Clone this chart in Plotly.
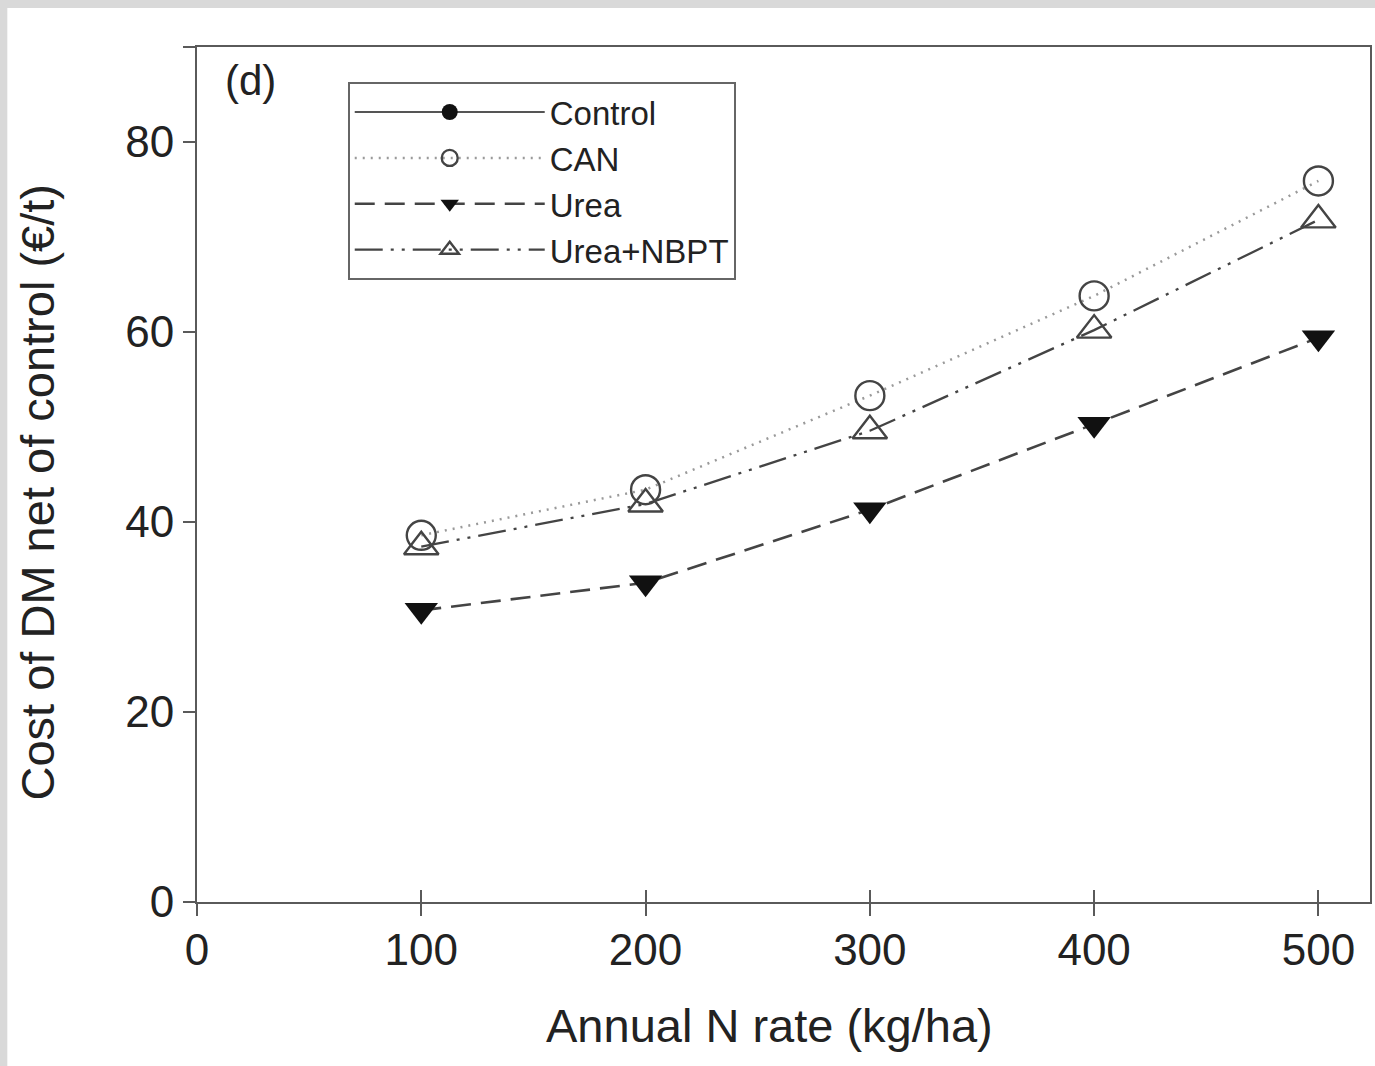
import plotly.graph_objects as go

n_rate = [100, 200, 300, 400, 500]
control = [None]
can = [38.6, 43.4, 53.3, 63.8, 75.9]
urea = [30.7, 33.6, 41.3, 50.3, 59.4]
urea_nbpt = [37.4, 41.9, 49.6, 60.2, 71.8]

x_ticks = [0, 100, 200, 300, 400, 500]
y_ticks = [0, 20, 40, 60, 80, 90]
y_tick_text = ["0", "20", "40", "60", "80", ""]

FONT = "Liberation Sans, Arial, sans-serif"
TXT = "#222222"
AX = "#5a5a5a"

fig = go.Figure()
fig.add_trace(go.Scatter(x=control, y=control, name="Control", mode="lines+markers",
                         line=dict(color="#555555", width=2),
                         marker=dict(symbol="circle", size=24, color="#111111")))
fig.add_trace(go.Scatter(x=n_rate, y=can, name="CAN", mode="lines+markers",
                         line=dict(color="#9a9a9a", width=2.5, dash="2px,6px"),
                         marker=dict(symbol="circle-open", size=29, color="#444444", line=dict(width=2.4))))
fig.add_trace(go.Scatter(x=n_rate, y=urea, name="Urea", mode="lines+markers",
                         line=dict(color="#444444", width=2.6, dash="20px,10px"),
                         marker=dict(symbol="triangle-down", size=29, color="#111111")))
fig.add_trace(go.Scatter(x=n_rate, y=urea_nbpt, name="Urea+NBPT", mode="lines+markers",
                         line=dict(color="#444444", width=2.3, dash="28px,8px,3px,8px,3px,8px"),
                         marker=dict(symbol="triangle-up-open", size=30, color="#444444", line=dict(width=2.4))))

# overlay axis for inward half of crossing x ticks
fig.add_trace(go.Scatter(x=[None], y=[None], xaxis="x2", showlegend=False, hoverinfo="skip"))

fig.update_layout(
    width=1375, height=1066,
    margin=dict(l=197, r=3, t=47, b=164),
    paper_bgcolor="white", plot_bgcolor="white",
    font=dict(family=FONT, color=TXT, size=44),
    showlegend=True,
    legend=dict(x=0.1285, y=0.959, xanchor="left", yanchor="top",
                bordercolor="#666666", borderwidth=2, bgcolor="white",
                font=dict(size=33, family=FONT, color=TXT),
                itemwidth=190, tracegroupgap=0),
    xaxis=dict(range=[0, 523], tickvals=x_ticks, ticks="outside", ticklen=12, tickwidth=2,
               tickcolor=AX, showline=True, linecolor=AX, linewidth=2, mirror=True,
               showgrid=False, zeroline=False, tickfont=dict(size=44), ticklabelstandoff=-4),
    xaxis2=dict(overlaying="x", matches="x", range=[0, 523], tickvals=x_ticks[1:], ticks="inside",
                ticklen=12, tickwidth=2, tickcolor=AX, showticklabels=False, showline=False,
                showgrid=False, zeroline=False, side="bottom"),
    yaxis=dict(range=[0, 90], tickvals=y_ticks, ticktext=y_tick_text, ticks="outside", ticklen=12,
               tickwidth=2, tickcolor=AX, showline=True, linecolor=AX, linewidth=2, mirror=True,
               showgrid=False, zeroline=False, tickfont=dict(size=44)),
    shapes=[
        dict(type="rect", xref="paper", yref="paper", x0=-0.2, x1=1.01, y0=1.0456, y1=1.06,
             fillcolor="#d9d9d9", line=dict(width=0), layer="below"),
        dict(type="rect", xref="paper", yref="paper", x0=-0.2, x1=-0.1617, y0=-0.25, y1=1.06,
             fillcolor="#d9d9d9", line=dict(width=0), layer="below"),
    ],
    annotations=[
        dict(text="(d)", xref="paper", yref="paper", x=0.0455, y=0.961, xanchor="center", yanchor="middle",
             showarrow=False, font=dict(size=42, family=FONT, color=TXT)),
        dict(text="Annual N rate (kg/ha)", xref="paper", yref="paper", x=0.4877, y=-0.1439,
             xanchor="center", yanchor="middle",
             showarrow=False, font=dict(size=47, family=FONT, color=TXT)),
        dict(text="Cost of DM net of control (€/t)", xref="paper", yref="paper", x=-0.136, y=0.4795,
             xanchor="center", yanchor="middle",
             textangle=-90, showarrow=False, font=dict(size=47, family=FONT, color=TXT)),
    ],
)

fig.write_html("out.html")
